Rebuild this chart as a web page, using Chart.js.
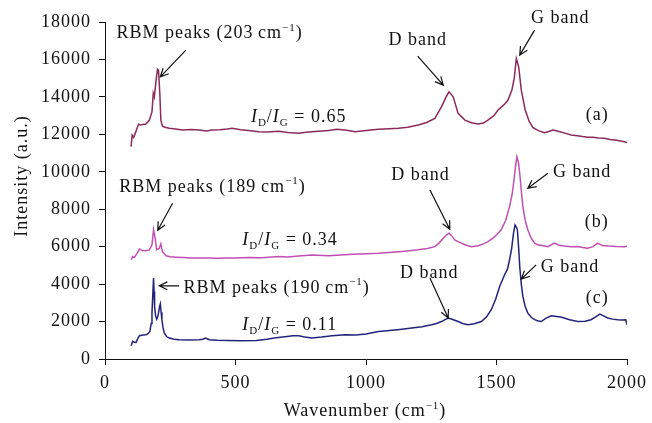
<!DOCTYPE html>
<html>
<head>
<meta charset="utf-8">
<script src="https://cdn.jsdelivr.net/npm/chart.js@4.4.1/dist/chart.umd.min.js"></script>
<style>
  html, body { margin: 0; padding: 0; background: #fff; }
</style>
</head>
<body>
<canvas id="raman" width="652" height="423"></canvas>
<script>
const FONT = "'Liberation Serif', 'Times New Roman', serif";

// spectrum (a)
const wavenumberA = [100, 104, 110, 116, 122, 129, 135, 145, 157, 170, 180, 185, 189, 195, 201, 205, 210, 214, 220, 230,
	246, 270, 297, 330, 361, 390, 411, 440, 469, 487, 520, 550, 590, 620, 666, 700, 742, 770, 793, 830,
	857, 888, 920, 959, 1000, 1048, 1090, 1124, 1160, 1200, 1230, 1264, 1289, 1305, 1318, 1334, 1353, 1379, 1404, 1429,
	1450, 1467, 1490, 1506, 1530, 1544, 1559, 1568, 1576, 1585, 1595, 1610, 1625, 1639, 1660, 1684, 1700, 1716, 1740, 1765,
	1786, 1810, 1830, 1849, 1870, 1890, 1913, 1935, 1960, 1989, 2000];
const intensityA = [11340, 11960, 11840, 12050, 12300, 12550, 12495, 12520, 12550, 12760, 13200, 14190, 14000, 14800, 15480, 15430, 14190, 12760, 12440, 12380,
	12320, 12280, 12230, 12260, 12230, 12180, 12230, 12250, 12280, 12330, 12250, 12200, 12140, 12120, 12170, 12100, 12060, 12110, 12140, 12180,
	12200, 12265, 12230, 12140, 12200, 12265, 12300, 12320, 12380, 12500, 12620, 12850, 13470, 13950, 14270, 14000, 13120, 12760, 12620, 12550,
	12600, 12760, 13000, 13300, 13600, 13830, 14360, 15000, 16050, 15600, 14360, 13300, 12700, 12370, 12200, 12090, 12150, 12230, 12150, 12050,
	11960, 11930, 11880, 11840, 11850, 11800, 11790, 11730, 11680, 11600, 11560];

// spectrum (b)
const wavenumberB = [100, 106, 112, 119, 125, 132, 144, 157, 170, 180, 186, 190, 193, 198, 208, 214, 220, 234, 250, 272,
	300, 330, 361, 400, 430, 469, 500, 550, 600, 666, 700, 742, 793, 858, 900, 950, 1000, 1048, 1100, 1150,
	1200, 1235, 1264, 1280, 1296, 1310, 1319, 1330, 1340, 1353, 1379, 1404, 1430, 1450, 1467, 1490, 1505, 1518, 1535, 1550,
	1560, 1567, 1573, 1578, 1584, 1589, 1595, 1601, 1610, 1620, 1633, 1646, 1658, 1680, 1697, 1722, 1740, 1760, 1786, 1810,
	1830, 1849, 1870, 1887, 1905, 1930, 1960, 1989, 2000];
const intensityB = [5300, 5470, 5420, 5560, 5700, 5870, 5790, 5780, 5830, 6100, 6900, 6600, 6370, 5830, 5920, 6150, 5740, 5510, 5460, 5440,
	5420, 5400, 5390, 5400, 5380, 5390, 5400, 5420, 5410, 5470, 5450, 5500, 5560, 5510, 5560, 5600, 5620, 5650, 5700, 5760,
	5830, 5900, 6000, 6190, 6450, 6650, 6720, 6550, 6360, 6270, 6100, 6000, 6050, 6150, 6270, 6500, 6700, 6900, 7400, 8140,
	8800, 9560, 10300, 10800, 10500, 9920, 9000, 8140, 7400, 6900, 6450, 6190, 6100, 6050, 6000, 6190, 6080, 6040, 6000, 6010,
	5960, 5920, 6000, 6190, 6060, 6030, 6010, 6000, 6020];

// spectrum (c)
const wavenumberC = [100, 106, 112, 119, 126, 132, 145, 157, 165, 172, 177, 180, 183, 186, 188, 190, 194, 198, 202, 205,
	209, 212, 215, 218, 222, 227, 236, 246, 265, 284, 320, 361, 375, 384, 392, 399, 430, 469, 520, 580,
	620, 655, 690, 720, 742, 765, 793, 830, 870, 920, 960, 1000, 1048, 1090, 1130, 1175, 1215, 1251, 1270, 1289,
	1303, 1315, 1330, 1353, 1370, 1391, 1415, 1442, 1462, 1480, 1497, 1512, 1531, 1542, 1550, 1558, 1565, 1571, 1576, 1580,
	1585, 1589, 1595, 1601, 1610, 1620, 1633, 1646, 1660, 1671, 1690, 1710, 1730, 1747, 1780, 1811, 1840, 1862, 1880, 1896,
	1910, 1926, 1945, 1964, 1980, 1995, 2000];
const intensityC = [710, 940, 900, 890, 1100, 1240, 1280, 1300, 1350, 1470, 1900, 2450, 3400, 4320, 3600, 2800, 2300, 2130, 2250, 2450,
	2800, 2950, 2500, 2100, 1700, 1390, 1200, 1120, 1060, 1030, 1010, 1030, 1060, 1120, 1080, 1030, 1000, 990, 980, 990,
	1050, 1130, 1190, 1240, 1240, 1180, 1120, 1170, 1240, 1300, 1280, 1330, 1470, 1520, 1580, 1650, 1720, 1830, 1900, 2000,
	2100, 2190, 2120, 2000, 1900, 1830, 1880, 2000, 2250, 2630, 3200, 3870, 4500, 4800, 5300, 5900, 6700, 7160, 7050, 6900,
	5900, 4940, 4000, 3340, 2800, 2450, 2230, 2100, 2030, 2000, 2180, 2310, 2270, 2240, 2100, 2000, 2020, 2100, 2250, 2400,
	2300, 2190, 2130, 2100, 2080, 2100, 1830];

const xTicks = [0, 500, 1000, 1500, 2000];
const yTicks = [0, 2000, 4000, 6000, 8000, 10000, 12000, 14000, 16000, 18000];

const seriesColors = ['#8B2A5B', '#C24FB3', '#23237C'];

// annotation texts, anchored in data units (left edge, baseline)
const notes = [
	{ x: 44, y: 17135, parts: [{ t: 'RBM peaks (203\u2009cm' }, { t: '\u22121', sup: true }, { t: ')' }] },
	{ x: 1086, y: 16760, parts: [{ t: 'D band' }] },
	{ x: 1632, y: 17950, parts: [{ t: 'G band' }] },
	{ x: 559, y: 12655, parts: [{ t: 'I', it: true }, { t: 'D', sub: true }, { t: '/' }, { t: 'I', it: true }, { t: 'G', sub: true }, { t: ' = 0.65' }] },
	{ x: 1842, y: 12760, parts: [{ t: '(a)' }] },
	{ x: 55, y: 8940, parts: [{ t: 'RBM peaks (189\u2009cm' }, { t: '\u22121', sup: true }, { t: ')' }] },
	{ x: 526, y: 6095, parts: [{ t: 'I', it: true }, { t: 'D', sub: true }, { t: '/' }, { t: 'I', it: true }, { t: 'G', sub: true }, { t: ' = 0.34' }] },
	{ x: 1097, y: 9560, parts: [{ t: 'D band' }] },
	{ x: 1716, y: 9740, parts: [{ t: 'G band' }] },
	{ x: 1838, y: 7070, parts: [{ t: '(b)' }] },
	{ x: 301, y: 3550, parts: [{ t: 'RBM peaks (190\u2009cm' }, { t: '\u22121', sup: true }, { t: ')' }] },
	{ x: 526, y: 1560, parts: [{ t: 'I', it: true }, { t: 'D', sub: true }, { t: '/' }, { t: 'I', it: true }, { t: 'G', sub: true }, { t: ' = 0.11' }] },
	{ x: 1130, y: 4350, parts: [{ t: 'D band' }] },
	{ x: 1670, y: 4670, parts: [{ t: 'G band' }] },
	{ x: 1842, y: 3000, parts: [{ t: '(c)' }] }
];

// arrows: tail -> head, data units
const arrows = [
	[310, 16495, 212, 15070],
	[1198, 16175, 1296, 14630],
	[1646, 17565, 1589, 16230],
	[259, 8320, 202, 6880],
	[1245, 9030, 1321, 6930],
	[1697, 9920, 1620, 9120],
	[284, 3910, 208, 3910],
	[1245, 4320, 1315, 2190],
	[1652, 5030, 1595, 4270]
];

function points(xs, ys) {
	return xs.map((x, i) => ({ x: x, y: ys[i] }));
}

function drawRich(ctx, parts, x, y, size) {
	let cx = x;
	parts.forEach(p => {
		const s = (p.sub || p.sup) ? Math.round(size * 0.62) : size;
		ctx.font = (p.it ? 'italic ' : '') + s + 'px ' + FONT;
		const dy = p.sub ? size * 0.22 : (p.sup ? -size * 0.4 : 0);
		ctx.fillText(p.t, cx, y + dy);
		cx += ctx.measureText(p.t).width;
	});
	return cx - x;
}

function drawArrow(ctx, x1, y1, x2, y2) {
	const a = Math.atan2(y2 - y1, x2 - x1);
	const len = 9, spread = 0.45;
	ctx.beginPath();
	ctx.moveTo(x1, y1);
	ctx.lineTo(x2, y2);
	ctx.moveTo(x2 - len * Math.cos(a - spread), y2 - len * Math.sin(a - spread));
	ctx.lineTo(x2, y2);
	ctx.lineTo(x2 - len * Math.cos(a + spread), y2 - len * Math.sin(a + spread));
	ctx.stroke();
}

const notesPlugin = {
	id: 'notes',
	beforeDraw(chart) {
		chart.ctx.letterSpacing = '1px';
	},
	afterDraw(chart) {
		const ctx = chart.ctx;
		const xs = chart.scales.x, ys = chart.scales.y;
		ctx.save();
		ctx.fillStyle = '#111';
		ctx.strokeStyle = '#111';
		ctx.lineWidth = 1.2;
		ctx.textAlign = 'left';
		ctx.textBaseline = 'alphabetic';
		notes.forEach(n => drawRich(ctx, n.parts, xs.getPixelForValue(n.x), ys.getPixelForValue(n.y), 18));
		arrows.forEach(a => drawArrow(ctx, xs.getPixelForValue(a[0]), ys.getPixelForValue(a[1]),
			xs.getPixelForValue(a[2]), ys.getPixelForValue(a[3])));

		// axis titles
		const area = chart.chartArea;
		ctx.fillStyle = '#111';
		ctx.font = '18px ' + FONT;
		const xt = [{ t: 'Wavenumber (cm' }, { t: '\u22121', sup: true }, { t: ')' }];
		ctx.globalAlpha = 0;
		const w = drawRich(ctx, xt, 0, 0, 18);
		ctx.globalAlpha = 1;
		drawRich(ctx, xt, (area.left + area.right) / 2 - w / 2 - 1, 416, 18);

		ctx.translate(27, 176);
		ctx.rotate(-Math.PI / 2);
		ctx.font = '18px ' + FONT;
		ctx.textAlign = 'center';
		ctx.fillText('Intensity (a.u.)', 0, 0);
		ctx.restore();
	}
};

const lineStyle = { borderWidth: 1.5, pointRadius: 0, tension: 0, fill: false };

const config_raman = {
	type: 'line',
	data: {
		datasets: [
			Object.assign({ label: '(a)', data: points(wavenumberA, intensityA), borderColor: seriesColors[0] }, lineStyle),
			Object.assign({ label: '(b)', data: points(wavenumberB, intensityB), borderColor: seriesColors[1] }, lineStyle),
			Object.assign({ label: '(c)', data: points(wavenumberC, intensityC), borderColor: seriesColors[2] }, lineStyle)
		]
	},
	plugins: [notesPlugin],
	options: {
		responsive: false,
		animation: false,
		layout: { padding: { left: 0, right: 22, top: 22, bottom: 0 } },
		plugins: {
			legend: { display: false },
			title: { display: false },
			tooltip: { enabled: false }
		},
		scales: {
			x: {
				type: 'linear',
				min: xTicks[0],
				max: xTicks[xTicks.length - 1],
				afterBuildTicks: s => { s.ticks = xTicks.map(v => ({ value: v })); },
				ticks: { color: '#111', font: { family: FONT, size: 18 }, padding: 7, maxRotation: 0, callback: v => String(v) },
				grid: { drawOnChartArea: false, drawTicks: true, tickLength: 6, color: '#111' },
				border: { color: '#111', width: 1 },
				afterFit: s => { s.height = 64; }
			},
			y: {
				type: 'linear',
				min: yTicks[0],
				max: yTicks[yTicks.length - 1],
				afterBuildTicks: s => { s.ticks = yTicks.map(v => ({ value: v })); },
				ticks: { color: '#111', font: { family: FONT, size: 18 }, padding: 8, callback: v => String(v) },
				grid: { drawOnChartArea: false, drawTicks: true, tickLength: 6, color: '#111' },
				border: { color: '#111', width: 1 },
				afterFit: s => { s.width = 105; }
			}
		}
	}
};

const raman = new Chart(document.getElementById('raman'), config_raman);
</script>
</body>
</html>
